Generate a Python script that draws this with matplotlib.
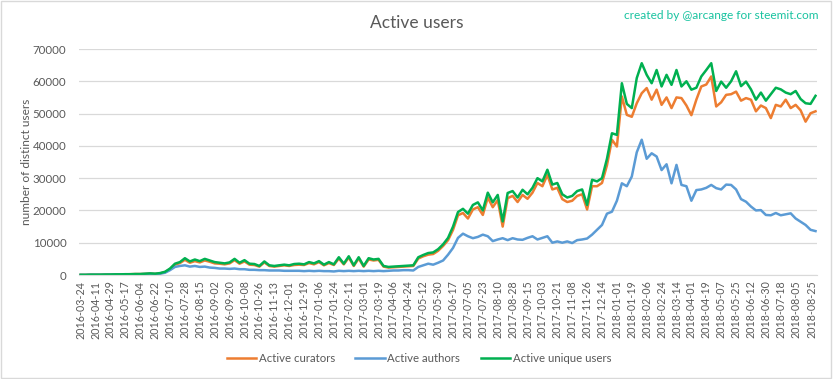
import matplotlib.pyplot as plt
import matplotlib.patches as mpatches
import pandas as pd

plt.rcParams["font.family"] = ["Lato", "DejaVu Sans"]

### Data (thousands of users, one reading every 6 days from 2016-03-24)

start = "2016-03-24"

curators = [
    0.05, 0.05, 0.1, 0.1, 0.1, 0.15, 0.15, 0.2, 0.2, 0.2,
    0.25, 0.3, 0.3, 0.35, 0.45, 0.35, 0.5, 0.9, 1.8, 3.2,
    3.7, 4.7, 3.8, 4.3, 3.9, 4.5, 4.1, 3.6, 3.5, 3.3,
    3.6, 4.6, 3.5, 4.2, 3.2, 3.1, 2.6, 3.9, 2.8, 2.6,
    2.8, 3.0, 2.8, 3.1, 3.2, 3.1, 3.7, 3.3, 4.0, 3.0,
    3.7, 3.1, 5.1, 3.3, 5.4, 2.8, 5.1, 2.6, 4.8, 4.5,
    4.7, 2.6, 2.3, 2.4, 2.5, 2.6, 2.7, 2.8, 5.1, 5.8,
    6.3, 6.5, 7.5, 9.0, 10.8, 14.0, 18.5, 19.2, 17.5, 20.3,
    21.0, 18.6, 24.0, 21.0, 23.2, 15.0, 23.8, 24.5, 22.6, 24.8,
    23.6, 25.5, 28.5, 27.5, 31.0, 26.5, 27.0, 23.5, 22.6, 23.0,
    24.5, 25.0, 20.3, 27.5, 27.5, 28.5, 34.0, 41.9, 39.8, 55.3,
    49.6, 49.0, 53.2, 56.3, 57.9, 54.3, 57.4, 52.7, 55.0, 51.7,
    55.0, 54.8, 52.5, 49.5, 54.3, 58.4, 59.0, 61.5, 52.2, 53.5,
    55.8, 56.0, 56.8, 54.0, 54.8, 54.3, 50.7, 52.5, 51.7, 48.6,
    52.7, 52.2, 54.3, 51.7, 52.7, 51.0, 47.5, 50.1, 50.7,
]

authors = [
    0.05, 0.05, 0.1, 0.1, 0.1, 0.1, 0.15, 0.15, 0.2, 0.2,
    0.2, 0.25, 0.25, 0.3, 0.35, 0.3, 0.4, 0.7, 1.5, 2.5,
    2.8, 3.0, 2.6, 2.8, 2.5, 2.6, 2.3, 2.2, 2.0, 2.0,
    1.9, 2.0, 1.8, 1.8, 1.6, 1.6, 1.5, 1.5, 1.4, 1.4,
    1.4, 1.3, 1.3, 1.3, 1.3, 1.2, 1.3, 1.2, 1.3, 1.2,
    1.2, 1.1, 1.3, 1.2, 1.3, 1.2, 1.3, 1.2, 1.3, 1.2,
    1.3, 1.2, 1.3, 1.4, 1.4, 1.5, 1.5, 1.4, 2.5, 3.0,
    3.5, 3.2, 3.8, 4.5, 6.3, 8.4, 11.5, 12.8, 12.0, 11.4,
    11.8, 12.5, 12.0, 10.5, 11.0, 11.4, 10.8, 11.4, 11.0, 10.9,
    11.5, 12.0, 11.0, 11.5, 12.0, 10.0, 10.4, 10.0, 10.4, 9.9,
    10.8, 11.0, 11.3, 12.5, 14.0, 15.5, 19.0, 19.6, 23.0, 28.4,
    27.5, 30.5, 38.0, 41.9, 36.0, 37.7, 36.7, 32.5, 34.3, 28.4,
    34.1, 27.9, 27.5, 23.0, 26.3, 26.5, 27.0, 27.9, 26.9, 26.5,
    28.0, 27.9, 26.5, 23.5, 22.7, 21.2, 20.0, 20.1, 18.6, 18.5,
    19.2, 18.5, 18.8, 19.1, 17.5, 16.5, 15.5, 14.0, 13.6,
]

unique_users = [
    0.05, 0.05, 0.1, 0.1, 0.1, 0.15, 0.15, 0.2, 0.2, 0.25,
    0.25, 0.3, 0.3, 0.4, 0.5, 0.4, 0.6, 1.0, 2.0, 3.5,
    4.0, 5.2, 4.2, 4.8, 4.3, 5.0, 4.5, 4.0, 3.8, 3.6,
    3.9, 5.0, 3.8, 4.6, 3.5, 3.4, 2.8, 4.2, 3.0, 2.8,
    3.0, 3.2, 3.0, 3.4, 3.5, 3.3, 4.0, 3.6, 4.3, 3.2,
    4.0, 3.3, 5.5, 3.5, 5.8, 3.0, 5.5, 2.8, 5.2, 4.8,
    5.0, 2.8, 2.5, 2.6, 2.7, 2.8, 2.9, 3.0, 5.5, 6.2,
    6.8, 7.0, 8.0, 9.5, 11.5, 15.0, 19.5, 20.5, 19.0, 21.7,
    22.5, 20.0, 25.5, 22.5, 24.8, 16.6, 25.4, 26.0, 24.0, 26.4,
    25.0, 27.0, 30.0, 29.0, 32.6, 28.0, 28.5, 25.0, 24.0, 24.5,
    26.0, 26.5, 21.7, 29.5, 29.0, 30.0, 36.0, 43.9, 43.4, 59.4,
    53.0, 51.7, 61.0, 65.6, 62.0, 59.4, 63.5, 58.4, 62.0, 58.9,
    63.5, 58.4, 60.0, 57.4, 58.0, 61.5, 63.5, 65.6, 57.0, 59.9,
    58.0, 60.0, 63.1, 58.5, 59.9, 57.5, 54.3, 56.5, 54.0, 56.0,
    58.0, 57.5, 56.5, 56.0, 57.0, 54.5, 53.2, 53.0, 55.5,
]

tick_labels = [
    "2016-03-24", "2016-04-11", "2016-04-29", "2016-05-17", "2016-06-04",
    "2016-06-22", "2016-07-10", "2016-07-28", "2016-08-15", "2016-09-02",
    "2016-09-20", "2016-10-08", "2016-10-26", "2016-11-13", "2016-12-01",
    "2016-12-19", "2017-01-06", "2017-01-24", "2017-02-11", "2017-03-01",
    "2017-03-19", "2017-04-06", "2017-04-24", "2017-05-12", "2017-05-30",
    "2017-06-17", "2017-07-05", "2017-07-23", "2017-08-10", "2017-08-28",
    "2017-09-15", "2017-10-03", "2017-10-21", "2017-11-08", "2017-11-26",
    "2017-12-14", "2018-01-01", "2018-01-19", "2018-02-06", "2018-02-24",
    "2018-03-14", "2018-04-01", "2018-04-19", "2018-05-07", "2018-05-25",
    "2018-06-12", "2018-06-30", "2018-07-18", "2018-08-05", "2018-08-25",
]

dates = pd.date_range(start, periods=len(unique_users), freq="6D")
df = pd.DataFrame(
    {"curators": curators, "authors": authors, "unique": unique_users},
    index=dates,
) * 1000

### Plot

grey = "#595959"
fig = plt.figure(figsize=(8.33, 3.79), dpi=100)
ax = fig.add_axes([0.0948, 0.2744, 0.8862, 0.5963])

ax.plot(df.index, df["curators"], color="#ED7D31", lw=1.8, label="Active curators")
ax.plot(df.index, df["authors"], color="#5B9BD5", lw=1.8, label="Active authors")
ax.plot(df.index, df["unique"], color="#00B050", lw=1.8, label="Active unique users")

ax.set_ylim(0, 70000)
ax.set_yticks(range(0, 70001, 10000))
ax.set_xlim(pd.Timestamp(start) - pd.Timedelta(days=2),
            pd.Timestamp(start) + pd.Timedelta(days=890))
ax.set_xticks(pd.to_datetime(tick_labels))
ax.set_xticklabels(tick_labels, rotation=90)

ax.grid(axis="y", color="#d9d9d9", lw=0.9)
ax.set_axisbelow(True)
for side in ["top", "right", "left"]:
    ax.spines[side].set_visible(False)
ax.spines["bottom"].set_color("#d9d9d9")
ax.tick_params(length=0, colors=grey, labelsize=8.3)
ax.tick_params(axis="y", pad=9)
ax.tick_params(axis="x", pad=4, labelsize=7.7)

fig.text(0.032, 0.573, "number of distinct users", rotation=90,
         ha="center", va="center", color=grey, fontsize=8.6)
fig.text(0.5, 0.94, "Active users", ha="center", va="center",
         color=grey, fontsize=12.5)
fig.text(0.983, 0.96, "created by @arcange for steemit.com", ha="right",
         va="center", color="#19c3a0", fontsize=8.6)

fig.legend(loc="center", bbox_to_anchor=(0.503, 0.053), ncol=3,
           frameon=False, fontsize=8.2, labelcolor=grey, handlelength=2.6,
           columnspacing=1.8, handletextpad=0.2)

fig.patches.append(mpatches.Rectangle((0.001, 0.002), 0.997, 0.995,
                                      transform=fig.transFigure, fill=False,
                                      edgecolor="#d9d9d9", lw=1))

fig.savefig("out.png", dpi=100)
